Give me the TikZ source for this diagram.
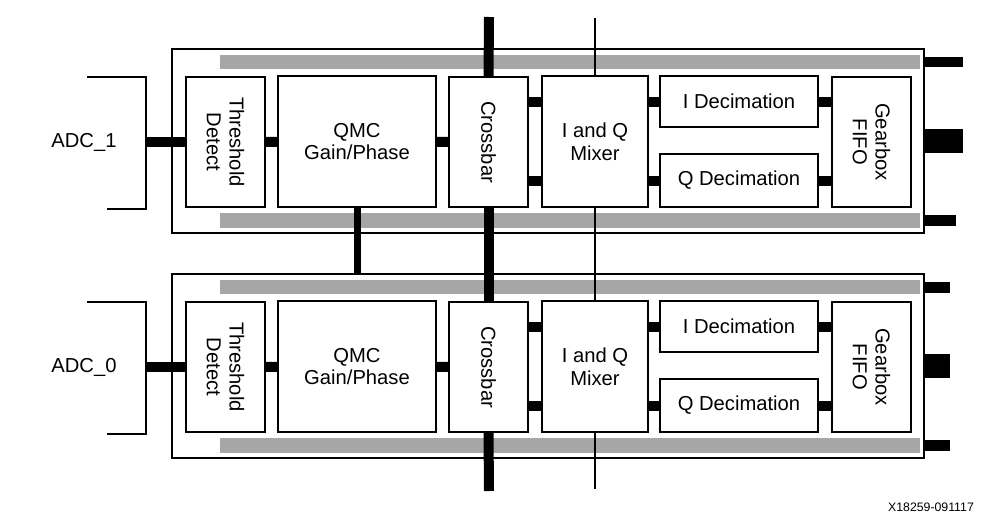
\documentclass[tikz,border=0pt]{standalone}
\usepackage{fontspec}
\setmainfont{Liberation Sans}

\begin{document}
\begin{tikzpicture}[x=0.02cm, y=-0.02cm,
  every node/.style={font=\fontsize{11.5}{13}\selectfont},
  sz/.style 2 args={minimum width=#1*0.02cm, minimum height=#2*0.02cm},
  blk/.style={draw, line width=1.1pt, fill=white, inner sep=0pt, align=center},
  txt/.style={inner sep=0pt, align=center},
  bus/.style={line width=0.2cm},
  wire/.style={line width=1.5pt},
  bar/.style={fill=black!35}]
\useasboundingbox (0,0) rectangle (1007,524);

\foreach \t/\oy/\ea/\eb in {1/0/963/956, 0/225/950/950} {
\begin{scope}[yshift={-\oy*0.02cm}]
% tile frame and gray rails
\node[draw, line width=1.1pt, inner sep=0pt, sz={752}{184}] (tile\t) at (548,141) {};
\fill[bar] (220,55) rectangle (920,69);
\fill[bar] (220,213) rectangle (920,228);

% blocks
\node[blk, sz={79}{130}] (thr\t) at (225.5,142) {};
\node[txt, rotate=-90] (thrtxt\t) at (thr\t) {Threshold\\Detect};
\node[blk, sz={158}{131}] (qmc\t) at (357,141.5) {QMC\\Gain/Phase};
\node[blk, sz={79}{130}] (xbar\t) at (488.5,142) {};
\node[txt, rotate=-90] (xbartxt\t) at (xbar\t) {Crossbar};
\node[blk, sz={106}{131}] (mix\t) at (595,141.5) {I and Q\\Mixer};
\node[blk, sz={158}{51}] (idec\t) at (739,101.5) {I Decimation};
\node[blk, sz={158}{53}] (qdec\t) at (739,180.5) {Q Decimation};
\node[blk, sz={79}{130}] (gear\t) at (871.5,142) {};
\node[txt, rotate=-90] (geartxt\t) at (gear\t) {Gearbox\\FIFO};

% ADC input
\node[txt] (adc\t) at (84,142) {ADC\_\t};
\draw[line width=1.1pt] (87,77) -- (146,77) -- (146,209) -- (107,209);
\coordinate (in\t) at (146,142);
\draw[bus] (in\t) -- (thr\t.west);

% data path
\draw[bus] (thr\t) -- (qmc\t);
\draw[bus] (qmc\t) -- (xbar\t);
\draw[bus] (xbar\t.east |- idec\t) -- (mix\t.west |- idec\t);
\draw[bus] (xbar\t.east |- qdec\t) -- (mix\t.west |- qdec\t);
\draw[bus] (mix\t.east |- idec\t) -- (idec\t);
\draw[bus] (mix\t.east |- qdec\t) -- (qdec\t);
\draw[bus] (idec\t) -- (gear\t.west |- idec\t);
\draw[bus] (qdec\t) -- (gear\t.west |- qdec\t);

% outputs
\coordinate (outa\t) at (\ea,62);
\coordinate (outb\t) at (\ea,141);
\coordinate (outc\t) at (\eb,220);
\draw[line width=0.22cm] (tile\t.east |- outa\t) -- (outa\t);
\draw[line width=0.48cm] (tile\t.east |- outb\t) -- (outb\t);
\draw[line width=0.22cm] (tile\t.east |- outc\t) -- (outc\t);
\end{scope}
}

% lines between the tiles
\coordinate (xtop) at (489,17);
\coordinate (xbot) at (489,491);
\draw[bus] (xtop) -- (xbar1.north);
\draw[bus] (xbar1.south) -- (xbar0.north);
\draw[bus] (xbar0.south) -- (xbot);

\coordinate (mtop) at (595,18);
\coordinate (mbot) at (595,489);
\draw[wire] (mtop) -- (mix1.north);
\draw[wire] (mix1.south) -- (mix0.north);
\draw[wire] (mix0.south) -- (mbot);

\draw[line width=0.14cm] (qmc1.south) -- (qmc1.south |- tile0.north);

\node[txt, font=\fontsize{7}{8}\selectfont] (fig) at (931,507) {X18259-091117};
\end{tikzpicture}
\end{document}
